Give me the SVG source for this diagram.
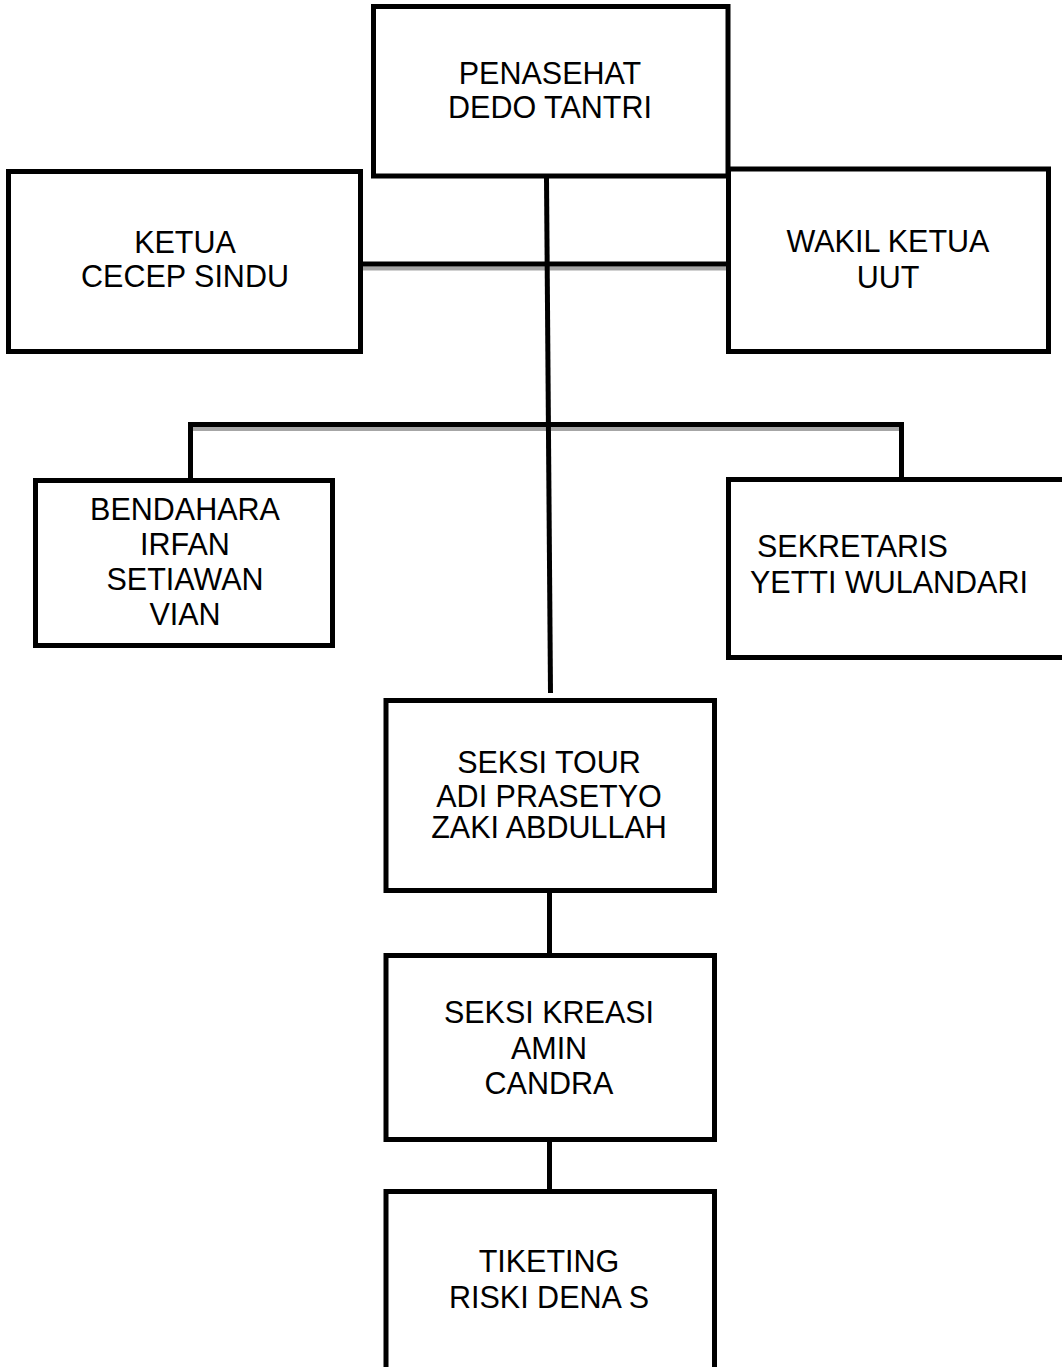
<svg xmlns="http://www.w3.org/2000/svg" width="1062" height="1367" viewBox="0 0 1062 1367">
<style>
.box{fill:#fff;stroke:#000;stroke-width:5}
.t{font-family:"Liberation Sans",Arial,sans-serif;font-size:30.5px;fill:#000;text-anchor:middle}
.ts{font-family:"Liberation Sans",Arial,sans-serif;font-size:30.5px;fill:#000}
.ln{stroke:#000;stroke-width:5;fill:none}
.sh{stroke:#a6a6a6;stroke-width:4;fill:none}
</style>
<rect width="1062" height="1367" fill="#fff"/>
<g id="connectors">
<line class="sh" x1="363" y1="268.5" x2="726" y2="268.5"/>
<line class="ln" x1="363" y1="264" x2="726" y2="264"/>
<line class="sh" x1="193" y1="429" x2="899" y2="429"/>
<line class="ln" x1="188" y1="424.5" x2="904" y2="424.5"/>
<line class="ln" x1="190.5" y1="422" x2="190.5" y2="478"/>
<line class="ln" x1="901.5" y1="422" x2="901.5" y2="480"/>
<line class="ln" x1="546.5" y1="178" x2="550.5" y2="693"/>
<line class="ln" x1="549.5" y1="892" x2="549.5" y2="955"/>
<line class="ln" x1="549.5" y1="1141" x2="549.5" y2="1190"/>
</g>
<g id="penasehat">
<rect class="box" x="373.5" y="6.5" width="354.5" height="169.5"/>
<text class="t" x="550" y="84">PENASEHAT</text>
<text class="t" x="550" y="118">DEDO TANTRI</text>
</g>
<g id="ketua">
<rect class="box" x="8.5" y="171.5" width="352" height="180"/>
<text class="t" x="185" y="253">KETUA</text>
<text class="t" x="185" y="287">CECEP SINDU</text>
</g>
<g id="wakil">
<rect class="box" x="728.5" y="169" width="320" height="182.5"/>
<text class="t" x="888" y="252">WAKIL KETUA</text>
<text class="t" x="888" y="288">UUT</text>
</g>
<g id="bendahara">
<rect class="box" x="35.5" y="480.5" width="297" height="165"/>
<text class="t" x="185" y="520">BENDAHARA</text>
<text class="t" x="185" y="555">IRFAN</text>
<text class="t" x="185" y="590">SETIAWAN</text>
<text class="t" x="185" y="625">VIAN</text>
</g>
<g id="sekretaris">
<rect class="box" x="728.5" y="479.5" width="337" height="178"/>
<text class="ts" x="757" y="557">SEKRETARIS</text>
<text class="ts" x="750" y="593">YETTI WULANDARI</text>
</g>
<g id="seksi-tour">
<rect class="box" x="386" y="700.5" width="328.5" height="190"/>
<text class="t" x="549" y="773">SEKSI TOUR</text>
<text class="t" x="549" y="807">ADI PRASETYO</text>
<text class="t" x="549" y="838">ZAKI ABDULLAH</text>
</g>
<g id="seksi-kreasi">
<rect class="box" x="386" y="955.5" width="328.5" height="184"/>
<text class="t" x="549" y="1023">SEKSI KREASI</text>
<text class="t" x="549" y="1059">AMIN</text>
<text class="t" x="549" y="1094">CANDRA</text>
</g>
<g id="tiketing">
<rect class="box" x="386" y="1191.5" width="328.5" height="200"/>
<text class="t" x="549" y="1272">TIKETING</text>
<text class="t" x="549" y="1308">RISKI DENA S</text>
</g>
</svg>
